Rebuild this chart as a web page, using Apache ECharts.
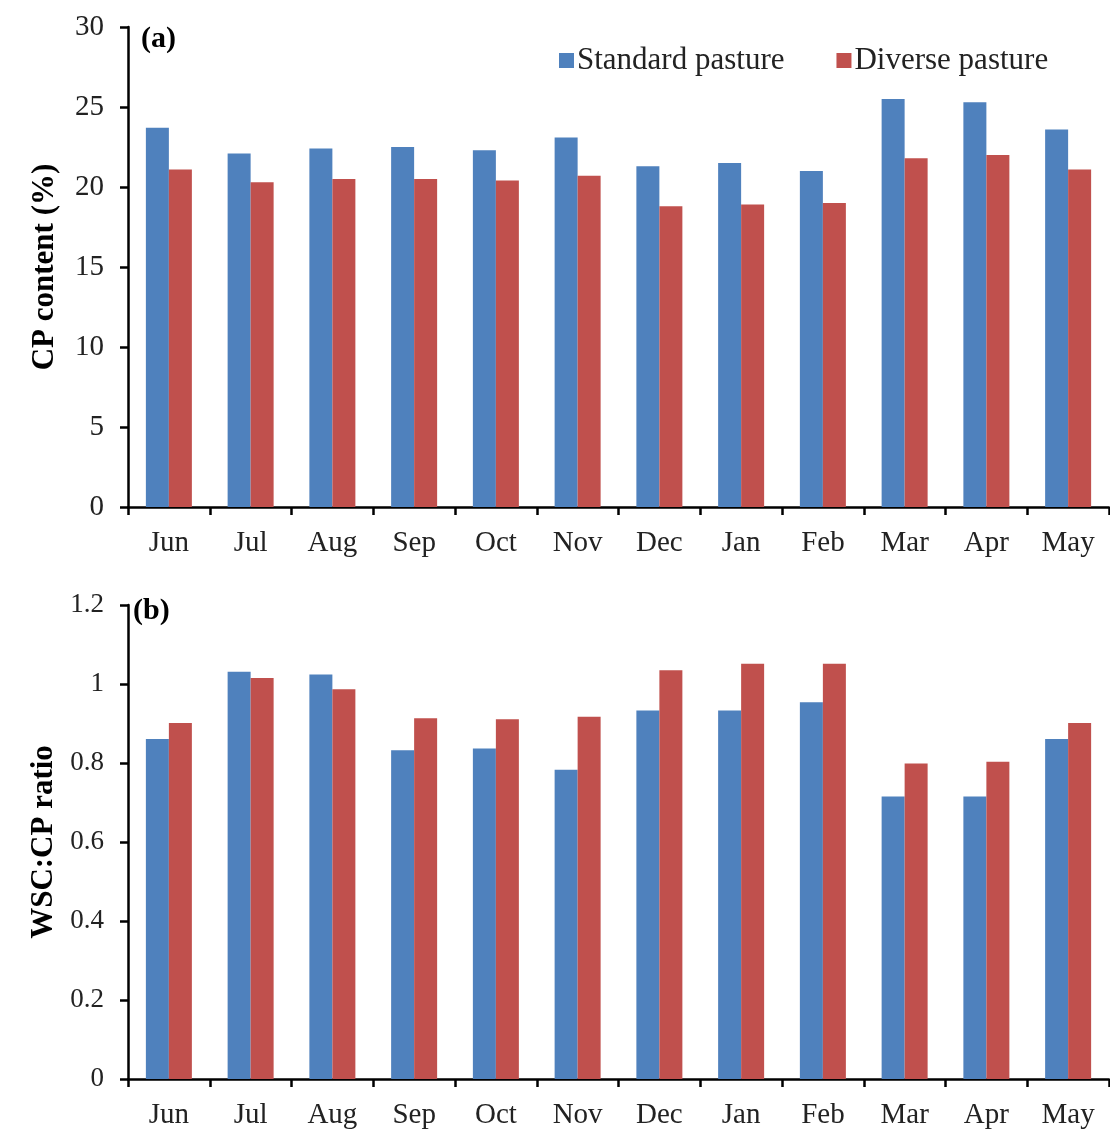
<!DOCTYPE html>
<html>
<head>
<meta charset="utf-8">
<script src="https://cdn.jsdelivr.net/npm/echarts@6/dist/echarts.min.js"></script>
<style>
  html, body { margin: 0; padding: 0; background: #fff; }
  #chart { width: 1110px; height: 1131px; }
</style>
</head>
<body>
<div id="chart"></div>
<script>
// months along both x axes
const months = ["Jun", "Jul", "Aug", "Sep", "Oct", "Nov", "Dec", "Jan", "Feb", "Mar", "Apr", "May"];

// (a) CP content (%)
const cpStandard = [23.7, 22.1, 22.4, 22.5, 22.3, 23.1, 21.3, 21.5, 21.0, 25.5, 25.3, 23.6];
const cpDiverse = [21.1, 20.3, 20.5, 20.5, 20.4, 20.7, 18.8, 18.9, 19.0, 21.8, 22.0, 21.1];

// (b) WSC:CP ratio
const ratioStandard = [0.861, 1.031, 1.024, 0.832, 0.837, 0.783, 0.933, 0.933, 0.954, 0.715, 0.715, 0.861];
const ratioDiverse = [0.901, 1.015, 0.987, 0.913, 0.911, 0.917, 1.035, 1.051, 1.051, 0.799, 0.803, 0.901];

const seriesNames = ["Standard pasture", "Diverse pasture"];
const colors = ["#4f81bd", "#c0504d"];

const serif = "Liberation Serif";
const axisLine = { lineStyle: { color: "#000", width: 2.5 } };
const axisTick = { show: true, length: 8, lineStyle: { color: "#000", width: 2.5 } };

function xAxis(gridIndex) {
  return {
    type: "category",
    gridIndex: gridIndex,
    data: months,
    axisLine: axisLine,
    axisTick: axisTick,
    axisLabel: { color: "#222", fontFamily: serif, fontSize: 29, margin: 22 }
  };
}

function yAxis(gridIndex, max, interval, name, fontSize) {
  return {
    type: "value",
    gridIndex: gridIndex,
    min: 0,
    max: max,
    interval: interval,
    name: name,
    nameLocation: "middle",
    nameGap: 68,
    nameTextStyle: { color: "#000", fontFamily: serif, fontSize: 31, fontWeight: "bold" },
    axisLine: Object.assign({ show: true }, axisLine),
    axisTick: axisTick,
    axisLabel: { color: "#222", fontFamily: serif, fontSize: fontSize, margin: 24 },
    splitLine: { show: false }
  };
}

function bars(name, data, color, idx) {
  return {
    name: name,
    type: "bar",
    xAxisIndex: idx,
    yAxisIndex: idx,
    data: data,
    barWidth: 23,
    barGap: "0%",
    itemStyle: { color: color }
  };
}

const chart = echarts.init(document.getElementById("chart"));
chart.setOption({
  animation: false,
  backgroundColor: "#fff",
  grid: [
    { left: 128, top: 27, width: 981, height: 480 },
    { left: 128, top: 605, width: 981, height: 474 }
  ],
  legend: {
    data: seriesNames,
    left: 554,
    top: 40,
    icon: "rect",
    itemWidth: 15,
    itemHeight: 15,
    itemGap: 52,
    itemStyle: { borderWidth: 0 },
    textStyle: { color: "#222", fontFamily: serif, fontSize: 31, padding: [0, 0, 0, -2] }
  },
  graphic: [
    { type: "text", left: 141, top: 24, style: { text: "(a)", font: "bold 30px 'Liberation Serif'", fill: "#000" } },
    { type: "text", left: 133, top: 596, style: { text: "(b)", font: "bold 30px 'Liberation Serif'", fill: "#000" } }
  ],
  xAxis: [xAxis(0), xAxis(1)],
  yAxis: [
    yAxis(0, 30, 5, "CP content (%)", 29),
    yAxis(1, 1.2, 0.2, "WSC:CP ratio", 27)
  ],
  series: [
    bars(seriesNames[0], cpStandard, colors[0], 0),
    bars(seriesNames[1], cpDiverse, colors[1], 0),
    bars(seriesNames[0], ratioStandard, colors[0], 1),
    bars(seriesNames[1], ratioDiverse, colors[1], 1)
  ]
});
</script>
</body>
</html>
